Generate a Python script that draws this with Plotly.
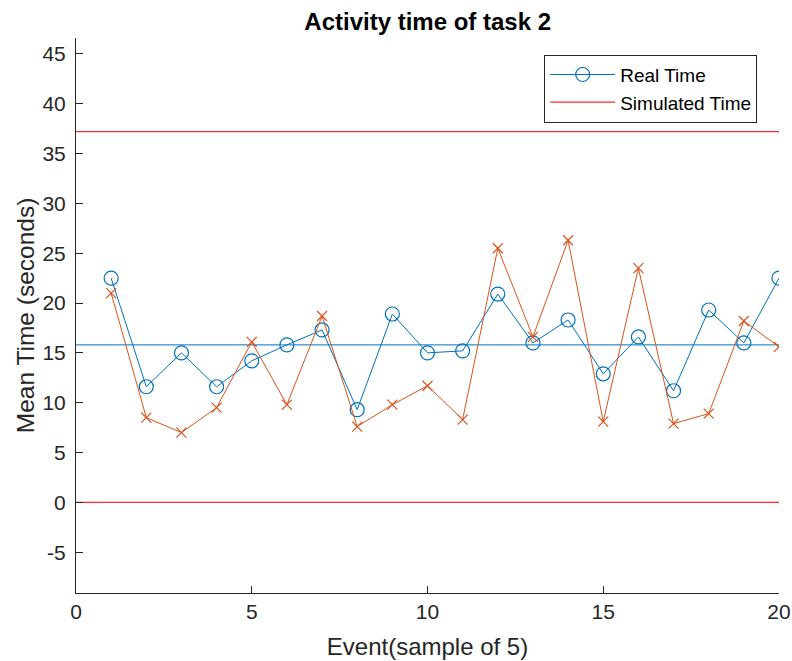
import plotly.graph_objects as go

events = list(range(1, 21))
real_time = [22.5, 11.6, 15.0, 11.6, 14.2, 15.8, 17.3, 9.3, 18.9, 15.0,
             15.2, 20.9, 16.0, 18.3, 12.9, 16.6, 11.2, 19.3, 16.0, 22.5]
simulated_time = [21.0, 8.5, 7.0, 9.5, 16.1, 9.8, 18.7, 7.6, 9.8, 11.7,
                  8.3, 25.5, 16.6, 26.3, 8.1, 23.5, 7.9, 8.9, 18.2, 15.6]
upper_limit = 37.2
lower_limit = 0.0
mean_line = 15.8
x_span = [0, 20]
x_ticks = [0, 5, 10, 15, 20]
y_ticks = [-5, 0, 5, 10, 15, 20, 25, 30, 35, 40, 45]
y_tick_labels = ["-5", "0", "5", "10", "15", "20", "25", "30", "35", "40", "45"]

BLUE = "#0072BD"
ORANGE = "#D95319"
RED = "#FF2A2A"
AX = "#262626"
FONT = "Liberation Sans, Arial, sans-serif"

fig = go.Figure()
fig.add_trace(go.Scatter(x=events, y=real_time, mode="lines+markers", name="Real Time",
                         line=dict(color=BLUE, width=1),
                         marker=dict(symbol="circle-open", size=14, color=BLUE, line=dict(width=1.2))))
fig.add_trace(go.Scatter(x=x_span, y=[upper_limit, upper_limit], mode="lines", name="Simulated Time",
                         line=dict(color=RED, width=1.2)))
fig.add_trace(go.Scatter(x=x_span, y=[lower_limit, lower_limit], mode="lines", showlegend=False,
                         line=dict(color=RED, width=1.2)))
fig.add_trace(go.Scatter(x=x_span, y=[mean_line, mean_line], mode="lines", showlegend=False,
                         line=dict(color=BLUE, width=1)))
fig.add_trace(go.Scatter(x=events, y=simulated_time, mode="lines+markers", showlegend=False,
                         line=dict(color=ORANGE, width=1),
                         marker=dict(symbol="x-thin-open", size=10, color=ORANGE, line=dict(width=1.2, color=ORANGE))))

fig.update_layout(
    width=792, height=661,
    margin=dict(l=76, r=13, t=38, b=68),
    paper_bgcolor="white", plot_bgcolor="white",
    font=dict(family=FONT, color=AX, size=21),
    title=dict(text="<b>Activity time of task 2</b>", x=0.540, xanchor="center", y=0.967, yanchor="middle",
               font=dict(size=24, color="black")),
    showlegend=True,
    legend=dict(x=0.666, y=0.97, xanchor="left", yanchor="top",
                bordercolor=AX, borderwidth=1, bgcolor="white",
                font=dict(size=19, color="black"), tracegroupgap=0, itemwidth=65),
)
fig.update_xaxes(range=[0, 20], tickvals=x_ticks, showgrid=False, zeroline=False, automargin=False,
                 showline=True, linecolor=AX, linewidth=1, ticks="inside", ticklen=7, tickcolor=AX,
                 tickfont=dict(size=21), title=dict(text="Event(sample of 5)", font=dict(size=24), standoff=15))
fig.update_yaxes(range=[-9.1, 46.6], tickvals=y_ticks, ticktext=y_tick_labels, showgrid=False, automargin=False,
                 zeroline=False, showline=True, linecolor=AX, linewidth=1, ticks="inside", ticklen=7,
                 ticklabelstandoff=5,
                 tickcolor=AX, tickfont=dict(size=21), title=dict(text="Mean Time (seconds)", font=dict(size=24.5), standoff=0))

fig.write_html("out.html", config={"displayModeBar": False},
               post_script="document.body.style.margin='0';")
